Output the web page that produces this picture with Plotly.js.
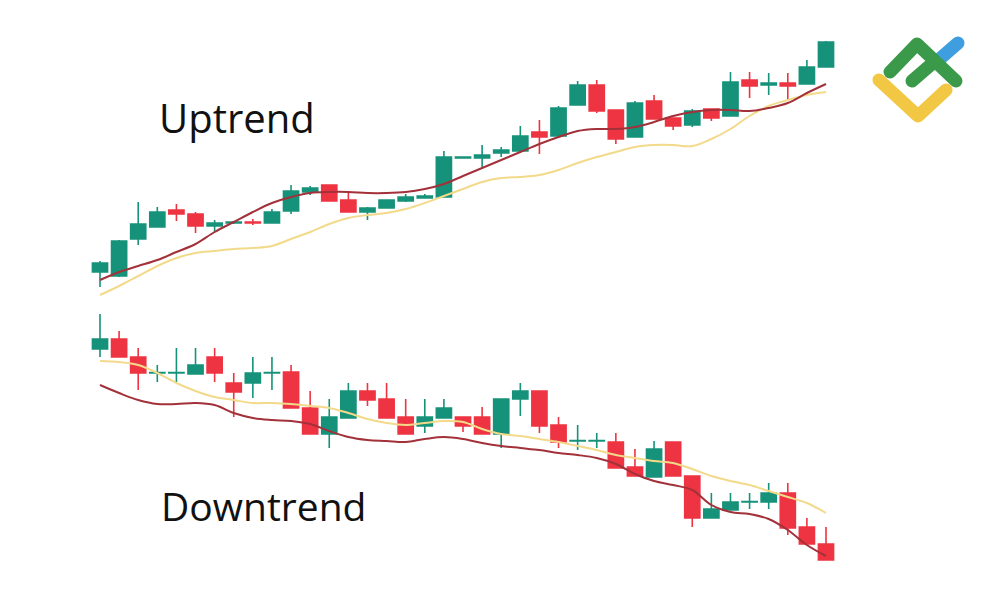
<!DOCTYPE html>
<html>
<head>
<meta charset="utf-8">
<script src="https://cdn.plot.ly/plotly-3.0.1.min.js"></script>
<style>
html,body{margin:0;padding:0;background:#fff;}
#chart{width:1000px;height:602px;}
</style>
</head>
<body>
<div id="chart"></div>
<script>
// Session index (one per candle)
const sessions = [0,1,2,3,4,5,6,7,8,9,10,11,12,13,14,15,16,17,18,19,20,21,22,23,24,25,26,27,28,29,30,31,32,33,34,35,36,37,38];

// Uptrend OHLC
const upOpen  = [330,326,363,375,392,388,376,379,380,379,391,410,417,402,390,394,401,404,405,444,444,449,451,470,466,497,517,492,465,501,484,477,493,486,522,517,519,518,535];
const upHigh  = [341,362,400,395,398,390,382,381,383,393,417,416,417,409,395,402,408,408,451,445,457,455,476,482,496,521,522,492,501,507,484,493,493,530,530,529,529,542,561];
const upLow   = [315,325,357,375,381,369,370,378,377,379,388,407,401,390,382,394,400,404,405,444,435,445,449,448,465,497,489,458,465,483,472,475,481,486,504,507,502,518,535];
const upClose = [339,361,378,390,388,376,379,380,379,390,411,414,401,390,394,402,405,406,445,445,447,452,466,465,494,517,491,463,499,483,476,491,484,520,516,519,516,535,560];
// Uptrend moving averages
const upMaFast = [322,330,336,342,350,358,370,380,390,399,405,409,410,410,409,409,410,413,418,426,434,442,450,458,465,471,473,473,475,480,486,490,492,492,491,494,499,509,518];
const upMaSlow = [307,316,326,336,344,349,351,353,354,356,363,370,378,384,387,389,393,399,406,413,420,424,425,427,432,439,445,450,455,457,457,456,463,473,486,496,502,507,510];

// Downtrend OHLC
const dnOpen  = [253,263,245,229,229,228,245,219,219,229,230,194,168,184,211,203,185,176,184,185,185,168,203,211,177,161,161,160,135,125,160,126,84,92,100,100,109,75,58];
const dnHigh  = [288,271,254,237,254,254,254,229,245,245,237,211,203,219,219,219,203,203,203,185,195,203,219,211,185,177,169,169,153,161,160,126,109,109,109,119,119,84,75];
const dnLow   = [245,245,212,220,220,228,220,185,204,212,194,168,154,184,196,184,168,169,184,170,168,154,186,169,154,152,154,134,126,125,126,75,84,92,93,93,67,58,42];
const dnClose = [263,245,229,229.4,229.4,237,229,210,229,229.4,194,168,185,211,202,184,168,185,194,176,168,203,211,176,160,161.4,161.4,134,126,153,126,84,93,100,100.4,109,74,58,42];
// Downtrend moving averages
const dnMaFast = [217,209,202,198,198,199,197,189,184,182,181,178,171,165,162,161,160,163,165,163,159,156,154,152,149,147,144,138,128,121,117,112,97,90,88,83,72,57,46];
const dnMaSlow = [241,240,237,229,219,211,205,202,199,199,198,196,194,189,183,179,177,179,181,180,173,168,166,163,160,156,152,147,144,141,139,133,126,121,117,111,105,99,89];

// Labels
const labelUp = 'Uptrend';
const labelDown = 'Downtrend';

const GREEN = '#16927a';
const RED = '#ee3442';
const MA_RED = '#a2313a';
const MA_YELLOW = '#f2da8a';

function candle(o,h,l,c){
  return {
    type:'candlestick', x:sessions, open:o, high:h, low:l, close:c,
    increasing:{line:{color:GREEN,width:1.6}, fillcolor:GREEN},
    decreasing:{line:{color:RED,width:1.6}, fillcolor:RED},
    whiskerwidth:0, hoverinfo:'skip', showlegend:false
  };
}
function maLine(y,color){
  return {type:'scatter', mode:'lines', x:sessions, y:y,
    line:{color:color,width:2,shape:'spline',smoothing:1},
    hoverinfo:'skip', showlegend:false};
}

const data = [
  maLine(upMaSlow, MA_YELLOW), maLine(upMaFast, MA_RED),
  maLine(dnMaSlow, MA_YELLOW), maLine(dnMaFast, MA_RED),
  candle(upOpen,upHigh,upLow,upClose),
  candle(dnOpen,dnHigh,dnLow,dnClose)
];

const logoSvg = '<svg xmlns="http://www.w3.org/2000/svg" width="110" height="100" viewBox="865 30 110 100">' +
 '<g fill="none" stroke-linecap="round" stroke-linejoin="round" stroke-width="13">' +
 '<path d="M879 80 L918 116 L946 90" stroke="#f2c744"/>' +
 '<path d="M935 63 L958 43" stroke="#3f9ee0"/>' +
 '<path d="M890 72 L917 44 L956 81" stroke="#3a9a4a"/>' +
 '<path d="M934 62 L912 81" stroke="#3a9a4a"/>' +
 '</g></svg>';

const layout = {
  width:1000, height:602,
  margin:{l:0,r:0,t:0,b:0},
  paper_bgcolor:'#ffffff', plot_bgcolor:'#ffffff',
  showlegend:false,
  boxgap:0.1, boxgroupgap:0.12,
  xaxis:{range:[-5.234,47.107], visible:false, showgrid:false, zeroline:false, fixedrange:true, rangeslider:{visible:false}},
  yaxis:{range:[0,602], visible:false, showgrid:false, zeroline:false, fixedrange:true},
  annotations:[
    {text:labelUp, xref:'paper', yref:'paper', x:0.157, y:1-117/602, xanchor:'left', yanchor:'middle', showarrow:false,
     font:{family:'Open Sans, sans-serif', size:40, color:'#111111'}},
    {text:labelDown, xref:'paper', yref:'paper', x:0.159, y:1-505/602, xanchor:'left', yanchor:'middle', showarrow:false,
     font:{family:'Open Sans, sans-serif', size:39, color:'#111111'}}
  ],
  images:[{source:'data:image/svg+xml;charset=utf-8,' + encodeURIComponent(logoSvg),
    xref:'paper', yref:'paper', x:0.865, y:1-30/602, sizex:0.11, sizey:100/602,
    xanchor:'left', yanchor:'top', sizing:'stretch', layer:'above'}]
};

Plotly.newPlot('chart', data, layout, {displayModeBar:false, staticPlot:true});
</script>
</body>
</html>
